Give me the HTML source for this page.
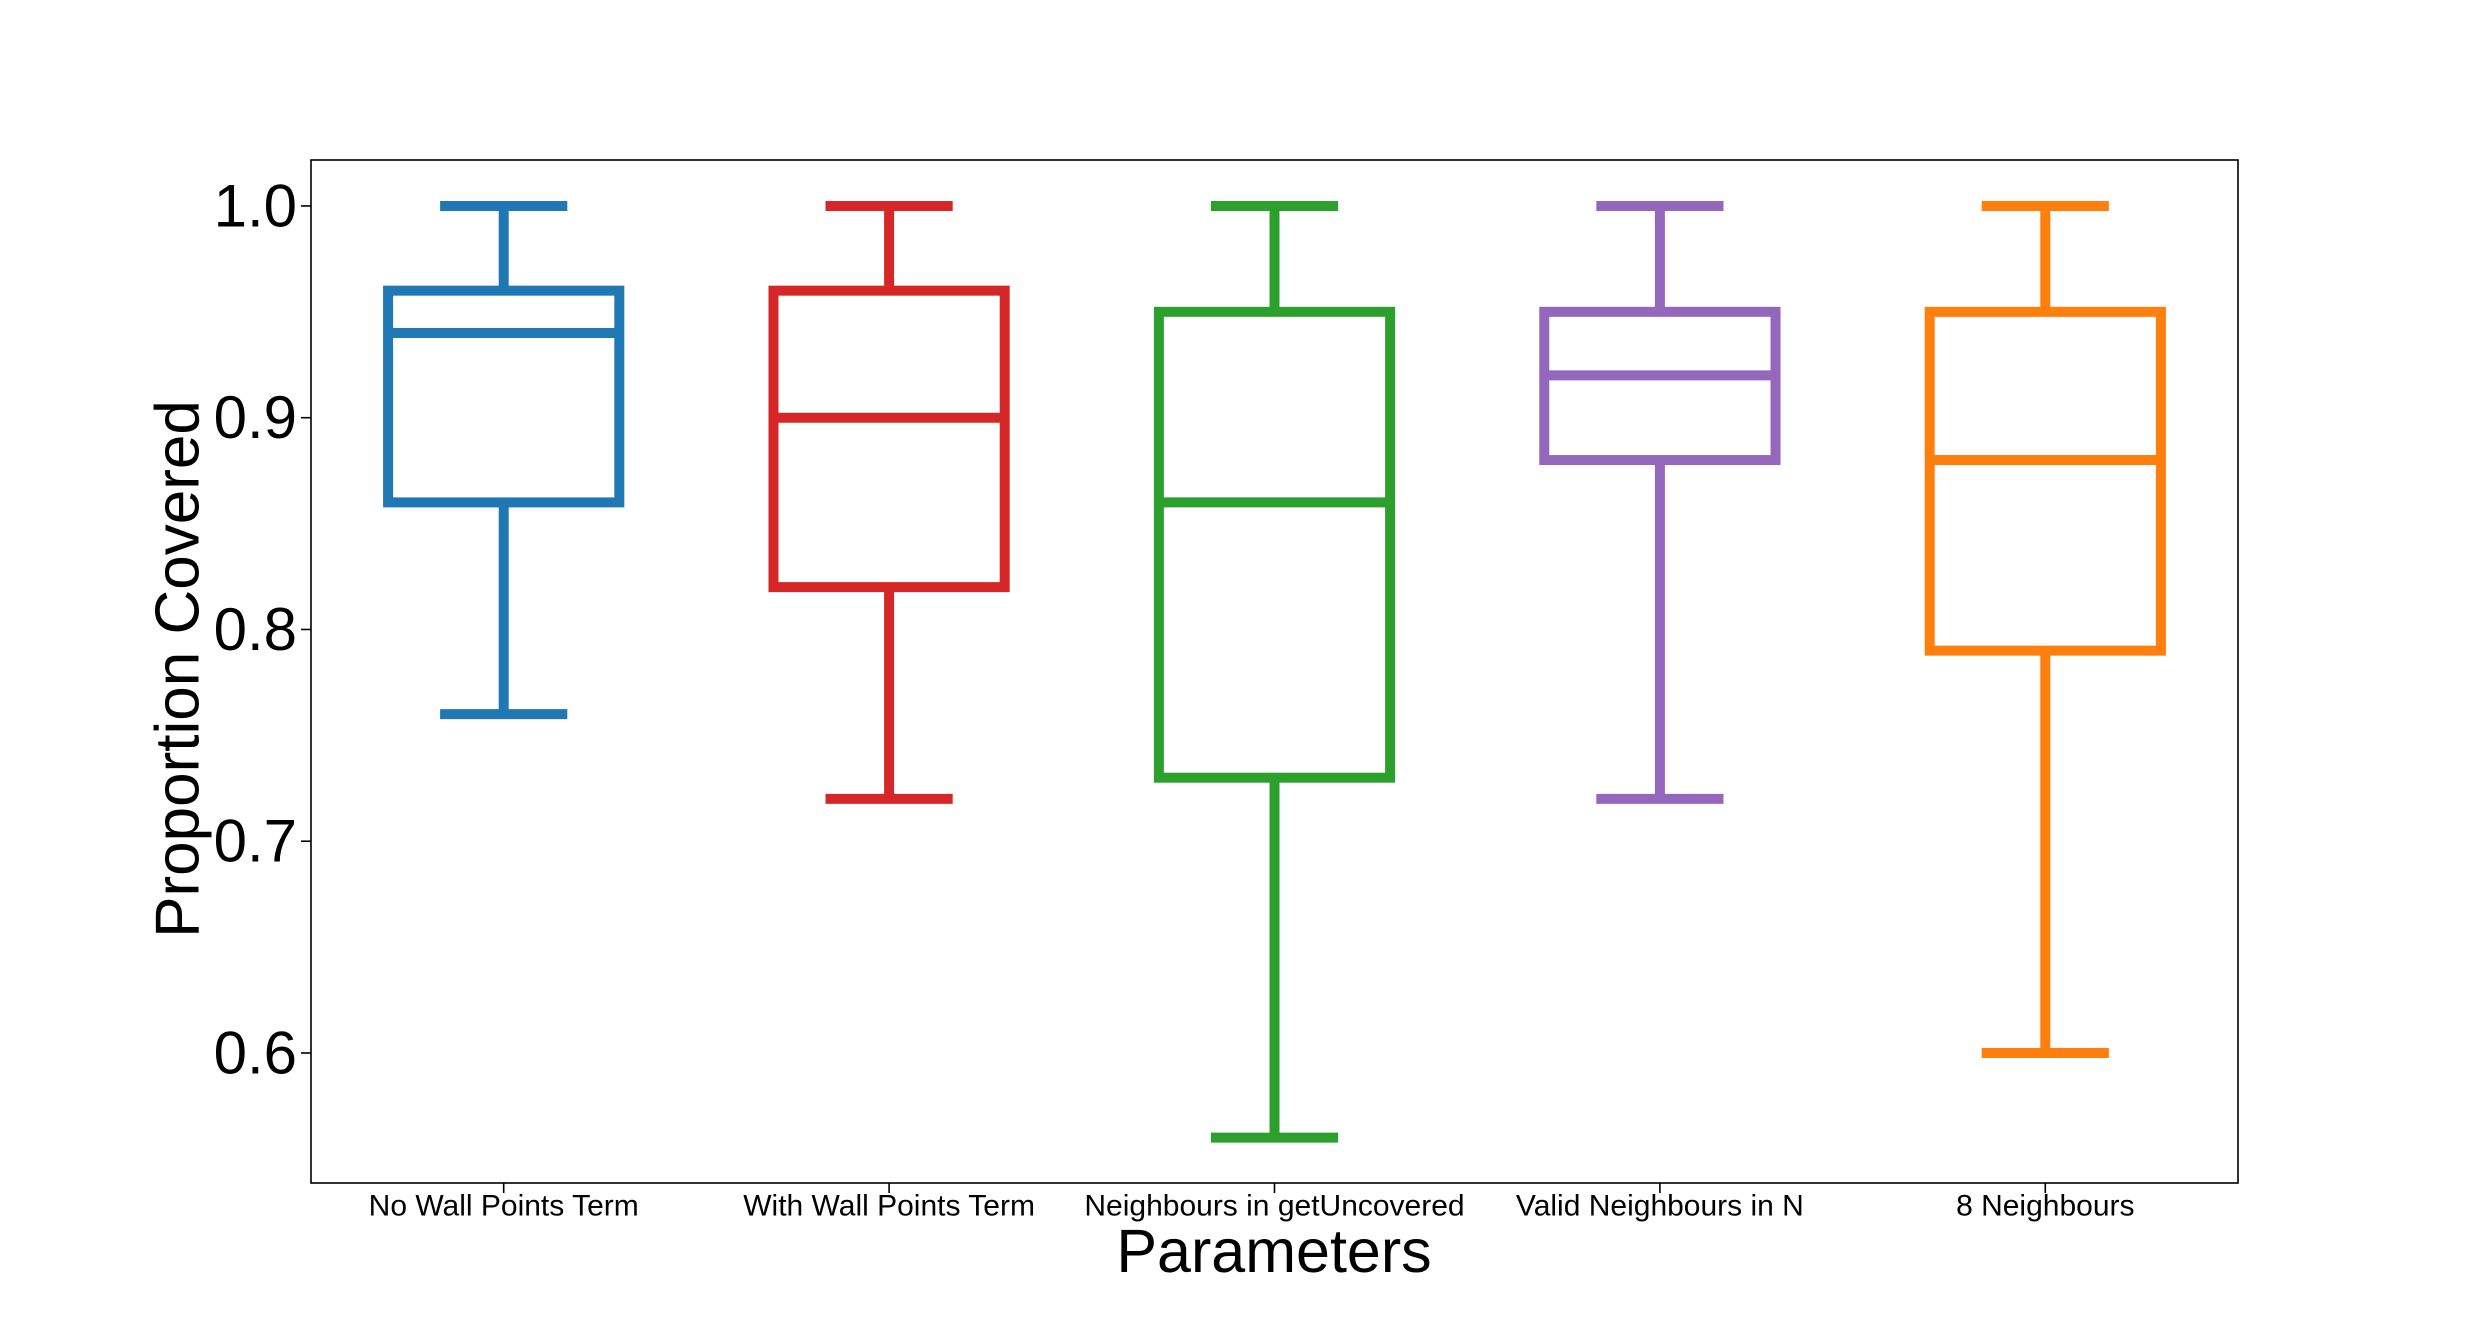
<!DOCTYPE html>
<html><head><meta charset="utf-8"><style>
body{margin:0;background:#fff}
svg{display:block;font-family:"Liberation Sans","DejaVu Sans",sans-serif}
</style></head><body>
<svg id="chart" width="2486" height="1330" viewBox="0 0 2486 1330">
<rect x="311" y="160" width="1927" height="1023" fill="none" stroke="#000" stroke-width="1.6"/>
<g id="yticks"></g>
<g id="xticks"></g>
<g id="boxes"></g>
<text x="178" y="669" transform="rotate(-90 178 669)" text-anchor="middle" dominant-baseline="central" font-size="62">Proportion Covered</text>
<text x="1274" y="1251" text-anchor="middle" dominant-baseline="central" font-size="61">Parameters</text>
</svg>
<script>
const categories=["No Wall Points Term","With Wall Points Term","Neighbours in getUncovered","Valid Neighbours in N","8 Neighbours"];
const colors=["#1f77b4","#d62728","#2ca02c","#9467bd","#ff7f0e"];
const mins=[0.76,0.72,0.56,0.72,0.60];
const q1s=[0.86,0.82,0.73,0.88,0.79];
const medians=[0.94,0.90,0.86,0.92,0.88];
const q3s=[0.96,0.96,0.95,0.95,0.95];
const maxs=[1.0,1.0,1.0,1.0,1.0];
const yTicks=[0.6,0.7,0.8,0.9,1.0];
const yTickLabels=["0.6","0.7","0.8","0.9","1.0"];
const L=311,R=2238,T=160,B=1183,yMin=0.5386,yMax=1.0217;
const ns="http://www.w3.org/2000/svg";
function y(v){return B-(v-yMin)/(yMax-yMin)*(B-T);}
const step=(R-L)/categories.length;
function x(i){return L+step*(i+0.5);}
function mk(tag,attrs,parent){const e=document.createElementNS(ns,tag);for(const k in attrs)e.setAttribute(k,attrs[k]);parent.appendChild(e);return e;}
const yg=document.getElementById('yticks'),xg=document.getElementById('xticks'),bg=document.getElementById('boxes');
yTicks.forEach((v,i)=>{
 const t=mk('line',{x1:L-10,x2:L,y1:y(v),y2:y(v),stroke:'#000','stroke-width':1.6},yg);
 
 
 const tx=mk('text',{x:L-14,y:y(v),'text-anchor':'end','dominant-baseline':'central','font-size':60},yg);
 tx.textContent=yTickLabels[i];
 
 
});
categories.forEach((c,i)=>{
 const cx=x(i);
 const t=mk('line',{x1:cx,x2:cx,y1:B,y2:B+10,stroke:'#000','stroke-width':1.6},xg);
 
 
 const tx=mk('text',{x:cx,y:1206,'text-anchor':'middle','dominant-baseline':'central','font-size':30},xg);
 tx.textContent=c;
 
 
 const g=mk('g',{stroke:colors[i],'stroke-width':10,fill:'none'},bg);
 
 
 const bw=step*0.6,cw=step*0.33;
 mk('rect',{x:cx-bw/2,y:y(q3s[i]),width:bw,height:y(q1s[i])-y(q3s[i])},g);
 mk('line',{x1:cx-bw/2,x2:cx+bw/2,y1:y(medians[i]),y2:y(medians[i])},g);
 mk('line',{x1:cx,x2:cx,y1:y(q3s[i]),y2:y(maxs[i])},g);
 mk('line',{x1:cx,x2:cx,y1:y(q1s[i]),y2:y(mins[i])},g);
 mk('line',{x1:cx-cw/2,x2:cx+cw/2,y1:y(maxs[i]),y2:y(maxs[i])},g);
 mk('line',{x1:cx-cw/2,x2:cx+cw/2,y1:y(mins[i]),y2:y(mins[i])},g);
});
</script>
</body></html>
